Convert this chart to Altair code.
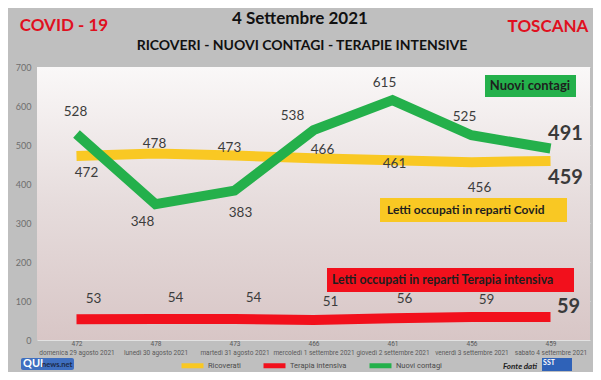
import json
import altair as alt
import pandas as pd

# ---------------- data ----------------
dates = ["domenica 29 agosto 2021", "lunedì 30 agosto 2021", "martedì 31 agosto 2021",
         "mercoledì 1 settembre 2021", "giovedì 2 settembre 2021",
         "venerdì 3 settembre 2021", "sabato 4 settembre 2021"]
ricoverati = [472, 478, 473, 466, 461, 456, 459]
terapia = [53, 54, 54, 51, 56, 59, 59]
contagi = [528, 348, 383, 538, 615, 525, 491]
series_names = ["Ricoverati", "Terapia intensiva", "Nuovi contagi"]

title_left = "COVID - 19"
title_center = "4 Settembre 2021"
title_right = "TOSCANA"
subtitle = "RICOVERI - NUOVI CONTAGI - TERAPIE INTENSIVE"
box_green = "Nuovi contagi"
box_yellow = "Letti occupati in reparti Covid"
box_red = "Letti occupati in reparti Terapia intensiva"

# label placement (pixel offsets from the point) - layout only
off_ric = [(10, 17), (-1, -10), (-5, -8), (9, -8), (2, 4), (8, 26), (15, 17)]
off_con = [(-1, -22), (-13, 18), (6, 22), (-21, -14), (-8, -17), (-7, -18), (15, -15)]
off_ter = [(17, -20), (20, -21), (19, -21), (17, -18), (12, -19), (15, -17), (18, -10)]

# ---------------- layout ----------------
W, H = 553, 273
YMAX = 700
PX_PER_UNIT = H / YMAX
STEP = W / 7
colors = ["#f9c823", "#f2101c", "#24b04b"]
FONT = "Lato"
SMALL = "Roboto"

rows = []
for name, vals, offs in [(series_names[0], ricoverati, off_ric),
                         (series_names[1], terapia, off_ter),
                         (series_names[2], contagi, off_con)]:
    for i, (v, (dx, dy)) in enumerate(zip(vals, offs)):
        rows.append({"idx": i, "series": name, "value": v,
                     "lx": i + dx / STEP, "ly": v - dy / PX_PER_UNIT,
                     "last": i == len(vals) - 1})
df = pd.DataFrame(rows)

xscale = alt.Scale(domain=[-0.5, 6.5], nice=False, zero=False)
yscale = alt.Scale(domain=[0, YMAX], nice=False)

label_expr = ("[" + json.dumps([str(v) for v in ricoverati]) + "[datum.value], "
              + json.dumps(dates) + "[datum.value]]")

x_axis = alt.Axis(values=list(range(7)), labelExpr=label_expr, grid=False, ticks=False,
                  domain=False, labelFontSize=6.5, labelColor="#5a5a5a", labelPadding=0,
                  labelLineHeight=9, labelOverlap=False, labelFlush=False, title=None,
                  labelFont=SMALL)
y_axis = alt.Axis(values=list(range(0, 701, 100)), grid=True, gridColor="#ffffff",
                  gridOpacity=0.55, ticks=False, domain=False, labelFontSize=9,
                  labelColor="#6e6e6e", labelPadding=6, title=None, labelFont=FONT,
                  labelOverlap=False, labelFlush=False)

color = alt.Color("series:N", scale=alt.Scale(domain=series_names, range=colors),
                  legend=alt.Legend(orient="none", legendX=142, legendY=285,
                                    direction="horizontal", title=None,
                                    symbolType="stroke", symbolStrokeWidth=5,
                                    symbolSize=484, labelFontSize=7.5, labelColor="#4a4a4a",
                                    labelFont=SMALL, columnPadding=12, labelOffset=2,
                                    padding=0))

one = pd.DataFrame({"a": [0]})

# panel background with gradient
panel = alt.Chart(one).mark_rect(
    color=alt.Gradient(gradient="linear", x1=0, x2=0, y1=0, y2=1,
                       stops=[alt.GradientStop(offset=0, color="#faf8f8"),
                              alt.GradientStop(offset=0.5, color="#e6dcdc"),
                              alt.GradientStop(offset=1, color="#d8c6c6")])
).encode(x=alt.value(0), x2=alt.value(W), y=alt.value(0), y2=alt.value(H))

base = alt.Chart(df)

def line_layer(name):
    return base.transform_filter(alt.datum.series == name).mark_line(
        strokeWidth=10, strokeCap="butt", strokeJoin="miter"
    ).encode(x=alt.X("idx:Q", scale=xscale, axis=x_axis),
             y=alt.Y("value:Q", scale=yscale, axis=y_axis),
             color=color)

lines = [line_layer(n) for n in series_names]

labels_small = base.transform_filter(alt.datum.last == False).mark_text(
    fontSize=13.5, font=FONT, color="#3c3c3c", align="center", baseline="middle"
).encode(x=alt.X("lx:Q", scale=xscale, axis=x_axis),
         y=alt.Y("ly:Q", scale=yscale, axis=y_axis), text="value:Q")

labels_big = base.transform_filter(alt.datum.last == True).mark_text(
    fontSize=20, font=FONT, fontWeight="bold", color="#3a3a3a", align="center",
    baseline="middle"
).encode(x=alt.X("lx:Q", scale=xscale, axis=x_axis),
         y=alt.Y("ly:Q", scale=yscale, axis=y_axis), text="value:Q")

# annotation boxes
def box(x0, x1, y0, y1, fill):
    return alt.Chart(one).mark_rect(color=fill).encode(
        x=alt.value(x0), x2=alt.value(x1), y=alt.value(y0), y2=alt.value(y1))

def txt(s, x, y, size, color="#1e1e1e", weight="bold", align="center", style="normal",
        font=FONT):
    return alt.Chart(one).mark_text(
        text=s, fontSize=size, fontWeight=weight, color=color, align=align,
        baseline="middle", font=font, fontStyle=style
    ).encode(x=alt.value(x), y=alt.value(y))

boxes = [
    box(448, 539, 8, 30, "#24b04b"), txt(box_green, 493, 19, 13),
    box(343, 530, 131, 155, "#f9c823"), txt(box_yellow, 350, 143, 12, align="left"),
    box(290, 537, 201, 225, "#f2101c"), txt(box_red, 295, 213, 12.3, align="left"),
]

titles = [
    txt(title_left, 27, -41, 17, color="#e0101e"),
    txt(title_center, 263, -48, 17, color="#111111"),
    txt(title_right, 511, -40, 17, color="#e0101e"),
    txt(subtitle, 265, -21, 14, color="#111111"),
]

# logos / source
logos = [
    alt.Chart(one).mark_rect(color="#3f6fc0", cornerRadius=2).encode(
        x=alt.value(-16), x2=alt.value(37), y=alt.value(291), y2=alt.value(303)),
    txt("QUI", -14, 297, 11, color="#ffffff", align="left"),
    txt("news.net", 5, 298, 7.5, color="#1b2a4a", align="left"),
    txt("Fonte dati", 483, 300, 8, color="#1e1e1e", style="italic"),
    alt.Chart(one).mark_rect(color="#2f62b8").encode(
        x=alt.value(505), x2=alt.value(535), y=alt.value(291), y2=alt.value(304)),
    txt("SST", 512, 296, 7, color="#ffffff"),
]

chart = alt.layer(panel, *boxes, *lines, labels_small, labels_big, *titles, *logos).properties(
    width=W, height=H, background="#bfbfbf",
    padding={"left": 29, "top": 59, "right": 3, "bottom": 32},
    autosize=alt.AutoSizeParams(type="none")
).configure_view(stroke=None)

chart.save("out.html", embed_options={"renderer": "svg", "actions": False})
